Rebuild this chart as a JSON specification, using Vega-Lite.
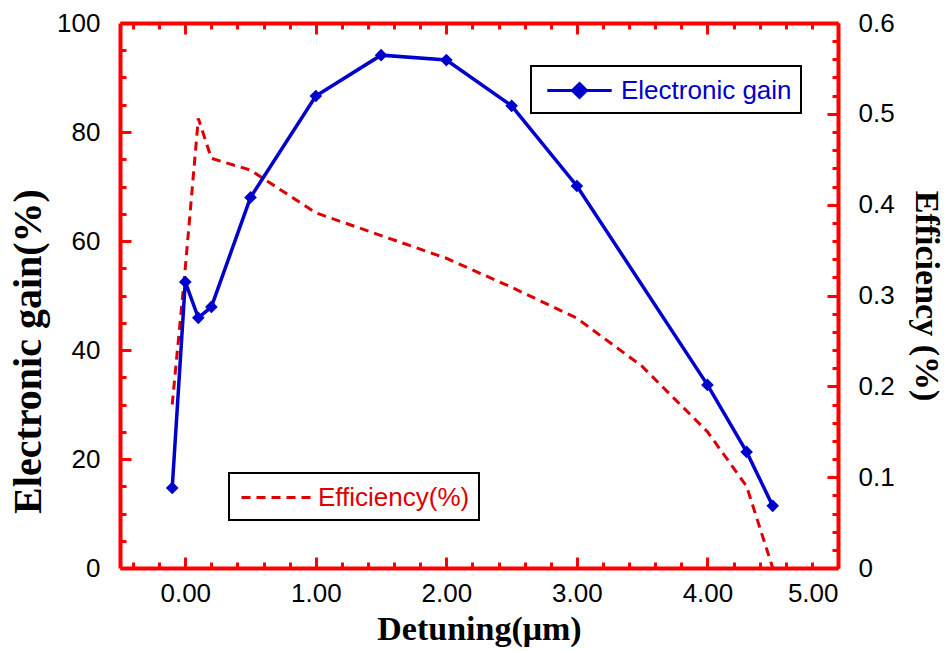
{
  "$schema": "https://vega.github.io/schema/vega-lite/v6.json",
  "width": 718,
  "height": 545,
  "autosize": "none",
  "padding": {"left": 120, "top": 23, "right": 113, "bottom": 83},
  "background": "white",
  "config": {
    "view": {"stroke": null},
    "axis": {
      "grid": false,
      "zindex": 1,
      "domainColor": "#ff0000",
      "domainWidth": 4,
      "tickColor": "#ff0000",
      "tickWidth": 3,
      "labelFont": "Liberation Sans",
      "labelFontSize": 26,
      "labelColor": "black",
      "titleFont": "Liberation Serif",
      "titleFontWeight": "bold",
      "titleFontSize": 34,
      "titleColor": "black"
    }
  },
  "datasets": {
    "gain": [
      {"x": -0.1, "gain": 14.7},
      {"x": 0.0, "gain": 52.5},
      {"x": 0.1, "gain": 45.9},
      {"x": 0.2, "gain": 47.9},
      {"x": 0.5, "gain": 68.0},
      {"x": 1.0, "gain": 86.6},
      {"x": 1.5, "gain": 94.1},
      {"x": 2.0, "gain": 93.2},
      {"x": 2.5, "gain": 84.8},
      {"x": 3.0, "gain": 70.1},
      {"x": 4.0, "gain": 33.6},
      {"x": 4.3, "gain": 21.3},
      {"x": 4.5, "gain": 11.4}
    ],
    "eff": [
      {"x": -0.1, "eff": 0.18},
      {"x": 0.0, "eff": 0.33},
      {"x": 0.1, "eff": 0.495},
      {"x": 0.2, "eff": 0.451},
      {"x": 0.5, "eff": 0.438},
      {"x": 1.0, "eff": 0.391},
      {"x": 1.5, "eff": 0.366},
      {"x": 2.0, "eff": 0.341},
      {"x": 2.5, "eff": 0.309},
      {"x": 3.0, "eff": 0.275},
      {"x": 3.5, "eff": 0.222},
      {"x": 4.0, "eff": 0.15},
      {"x": 4.3, "eff": 0.09},
      {"x": 4.5, "eff": 0.0}
    ]
  },
  "layer": [
    {
      "data": {"name": "eff"},
      "mark": {"type": "line", "strokeWidth": 3, "strokeDash": [9, 6]},
      "encoding": {
        "x": {"field": "x", "type": "quantitative", "scale": {"domain": [-0.5, 5], "nice": false},
          "axis": {"orient": "top", "values": [0, 1, 2, 3, 4, 5], "labels": false, "title": null, "tickSize": -11, "zindex": 1}},
        "y": {"field": "eff", "type": "quantitative", "scale": {"domain": [0, 0.6], "nice": false},
          "axis": {"orient": "right", "values": [0, 0.1, 0.2, 0.3, 0.4, 0.5, 0.6], "format": "~g", "tickSize": -11, "labelPadding": 31, "zindex": 1,
            "title": "Efficiency (%)", "titleAngle": 90, "titlePadding": 14}},
        "color": {"datum": "Efficiency(%)", "scale": {"range": ["#dd0000"]},
          "legend": {"orient": "none", "legendX": 109, "legendY": 450, "title": null,
            "symbolType": "M-2.5,0H2.5", "symbolSize": 784, "symbolStrokeWidth": 3, "symbolDash": [9, 6],
            "symbolStrokeColor": "#dd0000", "symbolOffset": 23, "labelOffset": 26, "labelLimit": 0,
            "labelFont": "Liberation Sans", "labelFontSize": 26, "labelColor": "#dd0000",
            "padding": 9, "strokeColor": "black",
            "encode": {"legend": {"update": {"strokeWidth": {"value": 2}}}}}}
      }
    },
    {
      "data": {"name": "gain"},
      "mark": {"type": "line", "strokeWidth": 3.5, "point": {"shape": "diamond", "size": 160, "filled": true}},
      "encoding": {
        "x": {"field": "x", "type": "quantitative", "scale": {"domain": [-0.5, 5], "nice": false},
          "axis": {"orient": "bottom", "values": [0, 1, 2, 3, 4, 5], "format": ".2f", "tickSize": -11, "labelPadding": 23, "zindex": 1,
            "title": "Detuning(μm)", "titlePadding": 6}},
        "y": {"field": "gain", "type": "quantitative", "scale": {"domain": [0, 100], "nice": false},
          "axis": {"orient": "left", "values": [0, 20, 40, 60, 80, 100], "tickSize": -11, "labelPadding": 31, "zindex": 1,
            "title": "Electronic gain(%)", "titleFontSize": 40, "titleY": 328, "titlePadding": 8}},
        "color": {"datum": "Electronic gain", "scale": {"range": ["#0000cc"]},
          "legend": {"orient": "none", "legendX": 411, "legendY": 43, "title": null,
            "symbolType": "M-2.3,0H2.3M0,-0.5L0.5,0L0,0.5L-0.5,0Z", "symbolSize": 784, "symbolStrokeWidth": 3,
            "symbolStrokeColor": "#0000cc", "symbolFillColor": "#0000cc", "symbolOffset": 24, "labelOffset": 26, "labelLimit": 0,
            "labelFont": "Liberation Sans", "labelFontSize": 26, "labelColor": "#0000cc",
            "padding": 9, "strokeColor": "black",
            "encode": {"legend": {"update": {"strokeWidth": {"value": 2}}},
              "symbols": {"update": {"fill": {"value": "#0000cc"}, "stroke": {"value": "#0000cc"}}}}}}
      }
    },
    {
      "data": {"name": "gain"},
      "mark": {"type": "point", "opacity": 0},
      "encoding": {
        "x": {"field": "x", "type": "quantitative", "scale": {"domain": [-0.5, 5], "nice": false},
          "axis": {"orient": "bottom", "values": [-0.4, -0.2, 0.2, 0.4, 0.6, 0.8, 1.2, 1.4, 1.6, 1.8, 2.2, 2.4, 2.6, 2.8, 3.2, 3.4, 3.6, 3.8, 4.2, 4.4, 4.6, 4.8],
            "labels": false, "domain": false, "title": null, "tickSize": -6, "zindex": 1}},
        "y": {"field": "gain", "type": "quantitative", "scale": {"domain": [0, 100], "nice": false},
          "axis": {"orient": "left", "values": [5, 10, 15, 25, 30, 35, 45, 50, 55, 65, 70, 75, 85, 90, 95],
            "labels": false, "domain": false, "title": null, "tickSize": -6, "zindex": 1}}
      }
    },
    {
      "data": {"name": "eff"},
      "mark": {"type": "point", "opacity": 0},
      "encoding": {
        "x": {"field": "x", "type": "quantitative", "scale": {"domain": [-0.5, 5], "nice": false},
          "axis": {"orient": "top", "values": [-0.4, -0.2, 0.2, 0.4, 0.6, 0.8, 1.2, 1.4, 1.6, 1.8, 2.2, 2.4, 2.6, 2.8, 3.2, 3.4, 3.6, 3.8, 4.2, 4.4, 4.6, 4.8],
            "labels": false, "domain": false, "title": null, "tickSize": -6, "zindex": 1}},
        "y": {"field": "eff", "type": "quantitative", "scale": {"domain": [0, 0.6], "nice": false},
          "axis": {"orient": "right", "values": [0.02, 0.04, 0.06, 0.08, 0.12, 0.14, 0.16, 0.18, 0.22, 0.24, 0.26, 0.28, 0.32, 0.34, 0.36, 0.38, 0.42, 0.44, 0.46, 0.48, 0.52, 0.54, 0.56, 0.58],
            "labels": false, "domain": false, "title": null, "tickSize": -6, "zindex": 1}}
      }
    }
  ],
  "resolve": {"scale": {"x": "independent", "y": "independent", "color": "independent"}}
}
